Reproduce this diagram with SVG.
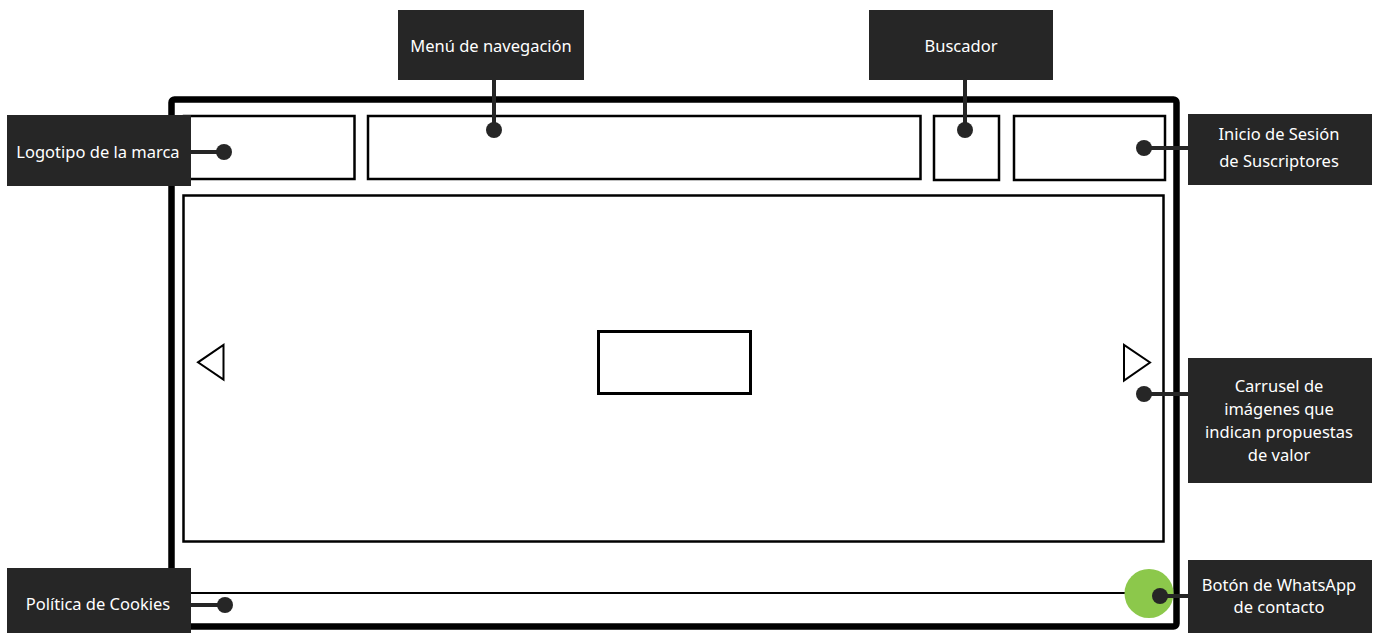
<svg xmlns="http://www.w3.org/2000/svg" width="1377" height="633" viewBox="0 0 1377 633">
<style>
.frame{fill:none;stroke:#000;stroke-width:6.5}
.box{fill:none;stroke:#000;stroke-width:2.5}
.tri{fill:none;stroke:#000;stroke-width:2}
.lbl{fill:#262626}
.txt{fill:#fff;font-family:"Noto Sans","Open Sans",sans-serif;font-size:16.5px;text-anchor:middle}
.con{stroke:#262626;stroke-width:4;fill:none}
.dot{fill:#262626}
</style>
<rect width="1377" height="633" fill="#fff"/>
<g id="mockup">
<rect class="frame" x="171.5" y="99.5" width="1005" height="527" rx="3"/>
<rect class="box" x="184" y="116" width="170.5" height="63"/>
<rect class="box" x="368" y="116" width="552.5" height="63"/>
<rect class="box" x="934" y="116" width="65" height="64"/>
<rect class="box" x="1014" y="116" width="151" height="64"/>
<rect class="box" x="183.5" y="195.5" width="980" height="346"/>
<rect x="598.5" y="331.5" width="152" height="62" fill="none" stroke="#000" stroke-width="3"/>
<polygon class="tri" points="223.5,345 223.5,379.5 198,362.3"/>
<polygon class="tri" points="1124,345 1124,380.5 1150,362.5"/>
<line x1="174.5" y1="593" x2="1130" y2="593" stroke="#000" stroke-width="2"/>
<circle cx="1149" cy="593.5" r="24.5" fill="#8cc84b"/>
</g>
<g id="connectors">
<line class="con" x1="494" y1="80" x2="494" y2="130"/>
<line class="con" x1="965" y1="80" x2="965" y2="130"/>
<line class="con" x1="190" y1="152" x2="224" y2="152"/>
<line class="con" x1="1144" y1="148" x2="1188" y2="148"/>
<line class="con" x1="1144" y1="394" x2="1188" y2="394"/>
<line class="con" x1="1160" y1="596" x2="1188" y2="596"/>
<line class="con" x1="190" y1="605" x2="225" y2="605"/>
<circle class="dot" cx="494" cy="130" r="8"/>
<circle class="dot" cx="965" cy="130" r="8"/>
<circle class="dot" cx="224" cy="152" r="8"/>
<circle class="dot" cx="1144" cy="148" r="8"/>
<circle class="dot" cx="1144" cy="394" r="8"/>
<circle class="dot" cx="1160" cy="596" r="8"/>
<circle class="dot" cx="225" cy="605" r="8"/>
</g>
<g id="menu">
<rect class="lbl" x="398" y="10" width="186" height="70"/>
<text class="txt" x="491" y="51.5">Menú de navegación</text>
</g>
<g id="buscador">
<rect class="lbl" x="869" y="10" width="184" height="70"/>
<text class="txt" x="961" y="51.5">Buscador</text>
</g>
<g id="logotipo">
<rect class="lbl" x="7" y="115" width="184" height="71"/>
<text class="txt" x="98" y="157.5">Logotipo de la marca</text>
</g>
<g id="inicio">
<rect class="lbl" x="1188" y="114" width="184" height="71"/>
<text class="txt" x="1279" y="139.5">Inicio de Sesión</text>
<text class="txt" x="1279" y="166.5">de Suscriptores</text>
</g>
<g id="carrusel">
<rect class="lbl" x="1188" y="358" width="184" height="125"/>
<text class="txt" x="1279" y="391.5">Carrusel de</text>
<text class="txt" x="1279" y="415">imágenes que</text>
<text class="txt" x="1279" y="438">indican propuestas</text>
<text class="txt" x="1279" y="460.5">de valor</text>
</g>
<g id="whatsapp">
<rect class="lbl" x="1188" y="560" width="184" height="73"/>
<text class="txt" x="1279" y="590.5">Botón de WhatsApp</text>
<text class="txt" x="1279" y="612.5">de contacto</text>
</g>
<g id="cookies">
<rect class="lbl" x="7" y="568" width="184" height="65"/>
<text class="txt" x="98" y="609.5">Política de Cookies</text>
</g>
</svg>
